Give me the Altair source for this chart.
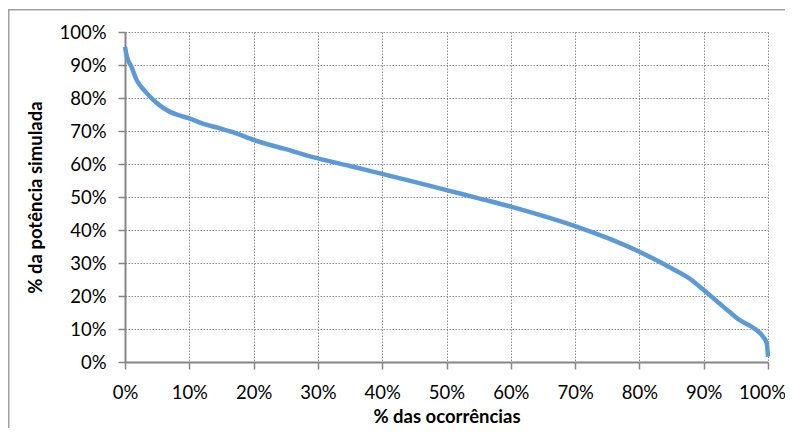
import altair as alt
import pandas as pd

# % das ocorrências (x) and % da potência simulada (y)
occ = [0, 0.3, 1, 1.8, 3, 4.4, 5.5, 7, 8.5, 10, 12, 14.8, 17, 20, 25, 30, 35, 40, 45,
       50, 55, 60, 65, 70, 75, 80, 85, 88, 90, 92, 94, 95.6, 97, 98.2, 99.3, 99.8, 100]
pot = [95.5, 92.5, 89.5, 85.5, 82.3, 79.4, 77.6, 75.8, 74.7, 73.8, 72.3, 70.8, 69.5, 67.3, 64.5,
       61.7, 59.4, 57, 54.6, 52.1, 49.6, 47.1, 44.3, 41.2, 37.6, 33.4, 28.4, 25, 21.8,
       18.5, 15.2, 12.7, 11.2, 9.7, 7.5, 5.8, 1.6]
ticks = [0, 10, 20, 30, 40, 50, 60, 70, 80, 90, 100]

df = pd.DataFrame({"x": [v / 100 for v in occ], "y": [v / 100 for v in pot],
                   "o": list(range(len(occ)))})

FONT = "Lato"
GRAY = "#868686"

axis_common = dict(
    format="%", labelFont=FONT, labelFontSize=18.5, labelColor="#000",
    titleFont=FONT, titleFontSize=18.5, titleFontWeight="bold", titleColor="#000",
    domainColor=GRAY, domainWidth=2, tickColor=GRAY, tickSize=7, tickWidth=1.5,
    gridColor="#8c8c8c", gridDash=[1.5, 1.5], gridWidth=1, labelFlush=False,
)

x_enc = alt.X("x:Q", title="% das ocorrências",
              scale=alt.Scale(domain=[0, 1], nice=False),
              axis=alt.Axis(values=[t / 100 for t in ticks], labelPadding=14,
                            labelOffset={"condition": {"test": "datum.value >= 1", "value": -6},
                                         "value": 0},
                            titleBaseline="alphabetic", titleY=60, **axis_common))
y_enc = alt.Y("y:Q", title="% da potência simulada",
              scale=alt.Scale(domain=[0, 1], nice=False),
              axis=alt.Axis(values=[t / 100 for t in ticks], labelPadding=12,
                            titlePadding=13, **axis_common))

line = alt.Chart(df).mark_line(color="#5B9BD5", strokeWidth=4.5, interpolate="monotone",
                               strokeCap="butt").encode(x=x_enc, y=y_enc, order="o:Q")

fd = pd.DataFrame({"a": [0]})
frame_left = alt.Chart(fd).mark_rect(fill="#a0a0a0").encode(
    x=alt.value(-117), x2=alt.value(-115.5), y=alt.value(-23), y2=alt.value(420))
frame_top = alt.Chart(fd).mark_rect(fill="#a0a0a0").encode(
    x=alt.value(-117), x2=alt.value(700), y=alt.value(-23), y2=alt.value(-21.5))

chart = alt.layer(frame_left, frame_top, line).properties(
    width=643, height=330,
    autosize=alt.AutoSizeParams(type="none"),
    padding={"left": 117, "top": 24, "right": 17, "bottom": 66},
).configure_view(stroke=None)

chart.save("out.html", embed_options={"renderer": "svg", "actions": False})
